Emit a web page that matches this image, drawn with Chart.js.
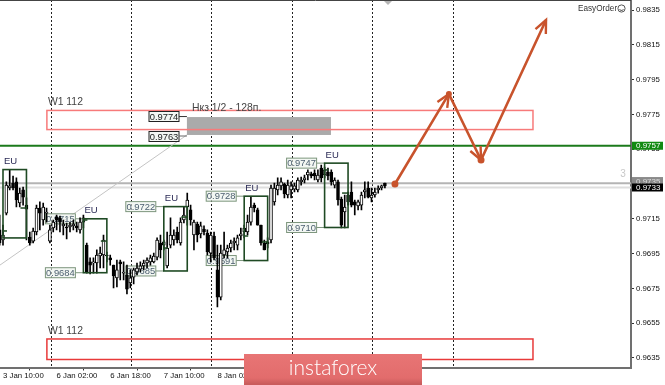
<!DOCTYPE html>
<html>
<head>
<meta charset="utf-8">
<style>
html, body { margin: 0; padding: 0; background: #fff; overflow: hidden; }
canvas { display: block; filter: blur(0.3px); }
</style>
<script src="https://cdn.jsdelivr.net/npm/chart.js@4"></script>
</head>
<body>
<canvas id="priceChart" width="665" height="385"></canvas>
<script>
// hourly candles, oldest first (first bar sits one slot left of the first time label)
const opens = [
  0.97086, 0.97028, 0.97183, 0.97327, 0.97356, 0.97362, 0.97241, 0.97316, 0.97229, 0.97045,
  0.97022, 0.97074, 0.97212, 0.97143, 0.97183, 0.97022, 0.97097, 0.97160, 0.97155, 0.97109,
  0.97103, 0.97103, 0.97109, 0.97109, 0.97086, 0.97131, 0.96999, 0.96902, 0.96896, 0.96896,
  0.96936, 0.96942, 0.96942, 0.96925, 0.96884, 0.96810, 0.96902, 0.96838, 0.96827, 0.96781,
  0.96815, 0.96844, 0.96861, 0.96879, 0.96896, 0.96902, 0.96902, 0.96930, 0.97011, 0.96999,
  0.96879, 0.96999, 0.97028, 0.97074, 0.97011, 0.97143, 0.97218, 0.97201, 0.97057, 0.97120,
  0.97063, 0.97091, 0.97068, 0.96953, 0.97051, 0.96856, 0.96700, 0.96942, 0.96959, 0.96982,
  0.97011, 0.96999, 0.97051, 0.97074, 0.97074, 0.97131, 0.97229, 0.97201, 0.97114, 0.97011,
  0.97017, 0.97028, 0.97247, 0.97316, 0.97339, 0.97350, 0.97287, 0.97316, 0.97321, 0.97316,
  0.97362, 0.97373, 0.97402, 0.97408, 0.97413, 0.97373, 0.97442, 0.97402, 0.97419, 0.97419,
  0.97344, 0.97362, 0.97264, 0.97189, 0.97287, 0.97304, 0.97247, 0.97224, 0.97229, 0.97304,
  0.97327, 0.97270, 0.97287, 0.97316, 0.97327, 0.97356
];
const closes = [
  0.97011, 0.97057, 0.97344, 0.97339, 0.97327, 0.97258, 0.97298, 0.97275, 0.97206, 0.97011,
  0.97080, 0.97212, 0.97183, 0.97218, 0.97189, 0.97086, 0.97131, 0.97143, 0.97131, 0.97120,
  0.97097, 0.97114, 0.97120, 0.97097, 0.97131, 0.97155, 0.96844, 0.96884, 0.96902, 0.96942,
  0.96953, 0.97028, 0.96936, 0.96913, 0.96821, 0.96856, 0.96890, 0.96844, 0.96746, 0.96810,
  0.96856, 0.96867, 0.96879, 0.96896, 0.96913, 0.96925, 0.96936, 0.97028, 0.96971, 0.97017,
  0.96982, 0.97057, 0.97057, 0.97028, 0.97131, 0.97172, 0.97258, 0.97143, 0.97131, 0.97057,
  0.97109, 0.97074, 0.96959, 0.97057, 0.96925, 0.96700, 0.96953, 0.96971, 0.96982, 0.97011,
  0.97022, 0.97040, 0.97063, 0.97097, 0.97131, 0.97218, 0.97212, 0.97114, 0.97011, 0.96971,
  0.97005, 0.97327, 0.97327, 0.97344, 0.97362, 0.97293, 0.97344, 0.97339, 0.97339, 0.97373,
  0.97373, 0.97385, 0.97419, 0.97396, 0.97396, 0.97402, 0.97385, 0.97431, 0.97396, 0.97362,
  0.97373, 0.97258, 0.97114, 0.97218, 0.97247, 0.97229, 0.97229, 0.97247, 0.97287, 0.97316,
  0.97275, 0.97287, 0.97304, 0.97327, 0.97339, 0.97339
];
const highs = [
  0.97172, 0.97114, 0.97362, 0.97431, 0.97396, 0.97385, 0.97327, 0.97333, 0.97270, 0.97074,
  0.97097, 0.97229, 0.97247, 0.97241, 0.97212, 0.97114, 0.97143, 0.97172, 0.97166, 0.97143,
  0.97126, 0.97131, 0.97143, 0.97131, 0.97155, 0.97172, 0.97011, 0.96925, 0.96925, 0.96971,
  0.96988, 0.97057, 0.96959, 0.96942, 0.96884, 0.96913, 0.96913, 0.96902, 0.96884, 0.96856,
  0.96867, 0.96896, 0.96902, 0.96913, 0.96925, 0.96942, 0.96953, 0.97040, 0.97057, 0.97028,
  0.97074, 0.97155, 0.97086, 0.97103, 0.97155, 0.97218, 0.97298, 0.97229, 0.97143, 0.97131,
  0.97131, 0.97109, 0.97086, 0.97074, 0.97074, 0.96999, 0.96999, 0.97074, 0.96999, 0.97028,
  0.97040, 0.97057, 0.97097, 0.97114, 0.97172, 0.97275, 0.97241, 0.97212, 0.97114, 0.97028,
  0.97040, 0.97344, 0.97356, 0.97385, 0.97385, 0.97356, 0.97373, 0.97362, 0.97356, 0.97385,
  0.97390, 0.97402, 0.97431, 0.97419, 0.97431, 0.97431, 0.97459, 0.97448, 0.97442, 0.97431,
  0.97385, 0.97373, 0.97275, 0.97287, 0.97304, 0.97362, 0.97258, 0.97258, 0.97304, 0.97362,
  0.97362, 0.97327, 0.97327, 0.97339, 0.97344, 0.97356
];
const lows = [
  0.96999, 0.96999, 0.97172, 0.97316, 0.97316, 0.97218, 0.97218, 0.97229, 0.97028, 0.96999,
  0.97011, 0.97057, 0.97086, 0.97114, 0.97131, 0.97011, 0.97074, 0.97086, 0.97074, 0.97057,
  0.97034, 0.97074, 0.97086, 0.97074, 0.97068, 0.97097, 0.96838, 0.96833, 0.96838, 0.96838,
  0.96867, 0.96867, 0.96902, 0.96884, 0.96752, 0.96758, 0.96798, 0.96798, 0.96718, 0.96752,
  0.96775, 0.96827, 0.96844, 0.96856, 0.96867, 0.96884, 0.96896, 0.96913, 0.96925, 0.96971,
  0.96867, 0.96982, 0.96999, 0.97011, 0.96999, 0.97126, 0.97114, 0.97114, 0.96971, 0.97017,
  0.97040, 0.97057, 0.96942, 0.96902, 0.96913, 0.96643, 0.96683, 0.96925, 0.96925, 0.96959,
  0.96971, 0.96971, 0.97028, 0.97040, 0.97057, 0.97114, 0.97189, 0.97114, 0.96999, 0.96971,
  0.96982, 0.97011, 0.97229, 0.97287, 0.97316, 0.97270, 0.97270, 0.97270, 0.97304, 0.97304,
  0.97344, 0.97356, 0.97373, 0.97385, 0.97373, 0.97362, 0.97362, 0.97385, 0.97373, 0.97344,
  0.97327, 0.97229, 0.97097, 0.97097, 0.97229, 0.97218, 0.97172, 0.97201, 0.97201, 0.97270,
  0.97270, 0.97247, 0.97275, 0.97298, 0.97316, 0.97327
];
const barIndex = opens.map((o, i) => i - 1);

const timeTicks = [0, 16, 32, 48, 64];
const timeLabels = ["3 Jan 10:00", "6 Jan 02:00", "6 Jan 18:00", "7 Jan 10:00", "8 Jan 02:00"];
const priceTicks = [0.9835, 0.9815, 0.9795, 0.9775, 0.9755, 0.9735, 0.9715, 0.9695, 0.9675, 0.9655, 0.9635];
const daySeparators = [14.2, 38.2, 62.2, 86.2, 110.2, 134.2];

// session boxes
const euStart = [0, 24, 48, 72, 96];
const euEnd = [7, 31, 55, 79, 103];
const euHigh = [0.97433, 0.9715, 0.9722, 0.9728, 0.9747];
const euLow = [0.9704, 0.9684, 0.9685, 0.9691, 0.971];
const euOpen = [0.9708, 0.97143, 0.96982, 0.97051, 0.97431];
const euClose = [0.97212, 0.97022, 0.9716, 0.97017, 0.97298];
const euHighLabels = [null, "0.9715", "0.9722", "0.9728", "0.9747"];
const euLowLabels = [null, "0.9684", "0.9685", "0.9691", "0.9710"];

// weekly zones
const zoneStart = [13.1, 13.1];
const zoneEnd = [158.2, 158.2];
const zoneHigh = [0.97773, 0.96459];
const zoneLow = [0.97663, 0.96341];
const zoneNames = ["W1 112", "W1 112"];
const zoneColors = ["#f77a7a", "#e83a3a"];

// forecast path
const pathX = [117, 133.1, 142.7, 162.1];
const pathY = [0.9735, 0.97868, 0.97488, 0.98293];
const pathDots = [3.5, 3, 3.5, 0];

const targetX = [54.9, 97.9];
const targetY = [0.97735, 0.97632];
const trendX = [-0.9, 54.9];
const trendY = [0.96884, 0.97632];

const greenLevel = 0.9757;
const askLevel = 0.97355;
const bidLevel = 0.9733;

const fontName = '"Liberation Sans", Arial, sans-serif';

function text(ctx, str, x, y, font, color, align) {
  ctx.font = font;
  ctx.fillStyle = color;
  ctx.textAlign = align || "left";
  ctx.textBaseline = "middle";
  ctx.fillText(str, x, y);
}

function tag(ctx, str, right, y, borderColor, textColor) {
  ctx.fillStyle = "rgba(235,242,235,0.6)";
  ctx.fillRect(right - 30, y - 5, 30, 10);
  ctx.strokeStyle = borderColor;
  ctx.lineWidth = 1;
  ctx.strokeRect(right - 30, y - 5, 30, 10);
  text(ctx, str, right - 15, y + 0.5, "9.4px " + fontName, textColor, "center");
}

function hLine(ctx, x0, x1, y, color, width) {
  ctx.strokeStyle = color;
  ctx.lineWidth = width;
  ctx.beginPath();
  ctx.moveTo(x0, y);
  ctx.lineTo(x1, y);
  ctx.stroke();
}

function arrowHead(ctx, fromX, fromY, toX, toY) {
  const a = Math.atan2(toY - fromY, toX - fromX);
  ctx.beginPath();
  ctx.moveTo(toX - 14 * Math.cos(a - 0.42), toY - 14 * Math.sin(a - 0.42));
  ctx.lineTo(toX, toY);
  ctx.lineTo(toX - 14 * Math.cos(a + 0.42), toY - 14 * Math.sin(a + 0.42));
  ctx.stroke();
}

const overlayPlugin = {
  id: "overlay",
  beforeDatasetsDraw(chart) {
    const ctx = chart.ctx;
    const x = chart.scales.x;
    const y = chart.scales.y;
    const area = chart.chartArea;
    ctx.save();

    // day separators
    ctx.strokeStyle = "#222";
    ctx.lineWidth = 1;
    ctx.setLineDash([2, 2]);
    daySeparators.forEach((d) => {
      const px = Math.round(x.getPixelForValue(d)) + 0.5;
      ctx.beginPath();
      ctx.moveTo(px, area.top);
      ctx.lineTo(px, area.bottom);
      ctx.stroke();
    });
    ctx.setLineDash([]);

    // price lines
    hLine(ctx, area.left, area.right, y.getPixelForValue(askLevel), "#b4b4b4", 2);
    hLine(ctx, area.left, area.right, y.getPixelForValue(bidLevel), "#dedede", 2);
    hLine(ctx, area.left, area.right, y.getPixelForValue(greenLevel), "#1b7a1b", 2);

    // trend line under the target block
    ctx.strokeStyle = "#c4c4c4";
    ctx.lineWidth = 1;
    ctx.beginPath();
    ctx.moveTo(x.getPixelForValue(trendX[0]), y.getPixelForValue(trendY[0]));
    ctx.lineTo(x.getPixelForValue(trendX[1]), y.getPixelForValue(trendY[1]));
    ctx.stroke();

    // grey target block
    ctx.fillStyle = "#aaaaaa";
    ctx.fillRect(
      x.getPixelForValue(targetX[0]),
      y.getPixelForValue(targetY[0]),
      x.getPixelForValue(targetX[1]) - x.getPixelForValue(targetX[0]),
      y.getPixelForValue(targetY[1]) - y.getPixelForValue(targetY[0])
    );

    // weekly zones
    zoneNames.forEach((name, i) => {
      const x0 = x.getPixelForValue(zoneStart[i]);
      const x1 = x.getPixelForValue(zoneEnd[i]);
      const y0 = y.getPixelForValue(zoneHigh[i]);
      const y1 = y.getPixelForValue(zoneLow[i]);
      ctx.strokeStyle = zoneColors[i];
      ctx.lineWidth = 1.5;
      ctx.strokeRect(x0, y0, x1 - x0, y1 - y0);
      text(ctx, name, x0 + 1, y0 - 8, "10.4px " + fontName, "#444");
    });
    text(ctx, "Нкз 1/2 - 128п.", 192, 108, "10.4px " + fontName, "#444");

    // target labels
    const left = x.getPixelForValue(targetX[0]);
    hLine(ctx, 179, left, y.getPixelForValue(targetY[0]) - 0.5, "#333", 1);
    tag(ctx, "0.9774", 179, 116.5, "#222", "#222");
    tag(ctx, "0.9763", 179, 136.5, "#222", "#222");
    hLine(ctx, 179, left, 136, "#666", 1);

    // session boxes and their labels
    euStart.forEach((s, i) => {
      const x0 = x.getPixelForValue(s);
      const y0 = y.getPixelForValue(euHigh[i]);
      const y1 = y.getPixelForValue(euLow[i]);
      text(ctx, "EU", x0 + 1, y0 - 8, "9.5px " + fontName, "#2a2a55");
      if (euHighLabels[i]) {
        hLine(ctx, x0 - 8, x0, y0, "#7d967d", 1);
        hLine(ctx, x0 - 8, x0, y1, "#7d967d", 1);
        tag(ctx, euHighLabels[i], x0 - 8, y0, "#7d967d", "#4d6070");
        tag(ctx, euLowLabels[i], x0 - 8, y1, "#7d967d", "#4d6070");
      }
    });
    ctx.restore();
  },
  afterDatasetsDraw(chart) {
    const ctx = chart.ctx;
    const x = chart.scales.x;
    const y = chart.scales.y;
    ctx.save();

    euStart.forEach((s, i) => {
      const x0 = x.getPixelForValue(s);
      const x1 = x.getPixelForValue(euEnd[i]);
      const y0 = y.getPixelForValue(euHigh[i]);
      const y1 = y.getPixelForValue(euLow[i]);
      ctx.strokeStyle = "#1f4a24";
      ctx.lineWidth = 1.6;
      ctx.strokeRect(x0, y0, x1 - x0, y1 - y0);
      hLine(ctx, x0, x0 + 4, y.getPixelForValue(euOpen[i]), "#1f4a24", 1.5);
      hLine(ctx, x1 - 6, x1, y.getPixelForValue(euClose[i]), "#1f4a24", 1.5);
    });

    // forecast path with dots and arrow heads
    ctx.strokeStyle = "#c8532c";
    ctx.fillStyle = "#c8532c";
    ctx.lineWidth = 2.6;
    ctx.beginPath();
    pathX.forEach((v, i) => {
      ctx.lineTo(x.getPixelForValue(v), y.getPixelForValue(pathY[i]));
    });
    ctx.stroke();
    pathX.forEach((v, i) => {
      if (pathDots[i] > 0) {
        ctx.beginPath();
        ctx.arc(x.getPixelForValue(v), y.getPixelForValue(pathY[i]), pathDots[i], 0, Math.PI * 2);
        ctx.fill();
      }
    });
    ctx.lineWidth = 2.4;
    for (let i = 1; i < pathX.length; i++) {
      arrowHead(
        ctx,
        x.getPixelForValue(pathX[i - 1]),
        y.getPixelForValue(pathY[i - 1]),
        x.getPixelForValue(pathX[i]),
        y.getPixelForValue(pathY[i])
      );
    }
    ctx.restore();
  },
  afterDraw(chart) {
    const ctx = chart.ctx;
    const y = chart.scales.y;
    const area = chart.chartArea;
    ctx.save();

    // top frame line and the small shift marker
    hLine(ctx, 0, area.right, 0.5, "#444", 1);
    ctx.fillStyle = "#b5b5b5";
    ctx.beginPath();
    ctx.moveTo(384, 1);
    ctx.lineTo(392, 1);
    ctx.lineTo(388, 5);
    ctx.closePath();
    ctx.fill();

    text(ctx, "3", 623, 174, "10px " + fontName, "#c8c8c8", "center");

    // EasyOrder badge
    text(ctx, "EasyOrder", 578, 8.5, "8.2px " + fontName, "#333");
    ctx.strokeStyle = "#555";
    ctx.lineWidth = 1;
    ctx.beginPath();
    ctx.arc(621.5, 8.5, 3.6, 0, Math.PI * 2);
    ctx.stroke();
    ctx.beginPath();
    ctx.arc(621.5, 8.5, 2, 0.3, Math.PI - 0.3);
    ctx.stroke();

    // price tags on the right axis
    const tags = [
      ["0.9735", askLevel + 0.00012, "#8a8a8a", "#ddd"],
      ["0.9757", greenLevel, "#118a11", "#fff"],
      ["0.9733", bidLevel, "#000", "#fff"]
    ];
    tags.forEach((t) => {
      const py = y.getPixelForValue(t[1]);
      ctx.fillStyle = t[2];
      ctx.fillRect(632, py - 4, 31, 8);
      text(ctx, t[0], 636, py + 0.5, "8px " + fontName, t[3]);
    });

    // watermark
    const grad = ctx.createLinearGradient(0, 354, 0, 384);
    grad.addColorStop(0, "#e87575");
    grad.addColorStop(0.8, "#e26c6c");
    grad.addColorStop(1, "#c95c5c");
    ctx.fillStyle = grad;
    ctx.fillRect(244, 354, 178, 31);
    text(ctx, "instaforex", 333, 368.5, "300 21px Lato, " + fontName, "#fff", "center");
    ctx.restore();
  }
};

function noPadding(scale) {
  scale.paddingLeft = 0;
  scale.paddingRight = 0;
  scale.paddingTop = 0;
  scale.paddingBottom = 0;
}

const chart = new Chart(document.getElementById("priceChart").getContext("2d"), {
  type: "bar",
  data: {
    labels: barIndex,
    datasets: [
      {
        data: barIndex.map((v, i) => ({ x: v, y: [opens[i], closes[i]] })),
        backgroundColor: barIndex.map((v, i) => (closes[i] > opens[i] ? "#ffffff" : "#000000")),
        borderColor: "#000000",
        borderWidth: 1,
        borderSkipped: false,
        barThickness: 3,
        grouped: false,
        order: 1
      },
      {
        data: barIndex.map((v, i) => ({ x: v, y: [lows[i], highs[i]] })),
        backgroundColor: "#000000",
        borderWidth: 0,
        barThickness: 1,
        grouped: false,
        order: 2
      }
    ]
  },
  options: {
    responsive: false,
    animation: false,
    events: [],
    layout: { padding: 0 },
    plugins: { legend: { display: false }, tooltip: { enabled: false } },
    scales: {
      x: {
        type: "linear",
        min: -0.8955,
        max: 187.46,
        offset: false,
        afterFit(scale) { scale.height = 17.5; noPadding(scale); },
        afterBuildTicks(scale) { scale.ticks = timeTicks.map((v) => ({ value: v })); },
        border: { color: "#707070", width: 2 },
        grid: { drawOnChartArea: false, drawTicks: true, tickLength: 3, color: "#333" },
        ticks: {
          autoSkip: false,
          maxRotation: 0,
          align: "start",
          padding: 1,
          color: "#111",
          font: { family: fontName, size: 7.8 },
          callback(value) { return timeLabels[timeTicks.indexOf(value)]; }
        }
      },
      y: {
        position: "right",
        min: 0.96295,
        max: 0.98408,
        afterFit(scale) { scale.width = 34; noPadding(scale); },
        afterBuildTicks(scale) { scale.ticks = priceTicks.map((v) => ({ value: v })); },
        border: { color: "#707070", width: 2 },
        grid: { drawOnChartArea: false, drawTicks: true, tickLength: 3, color: "#333" },
        ticks: {
          autoSkip: false,
          padding: 2,
          color: "#111",
          font: { family: fontName, size: 7.8 },
          callback(value) { return value.toFixed(4); }
        }
      }
    }
  },
  plugins: [overlayPlugin]
});
</script>
</body>
</html>
